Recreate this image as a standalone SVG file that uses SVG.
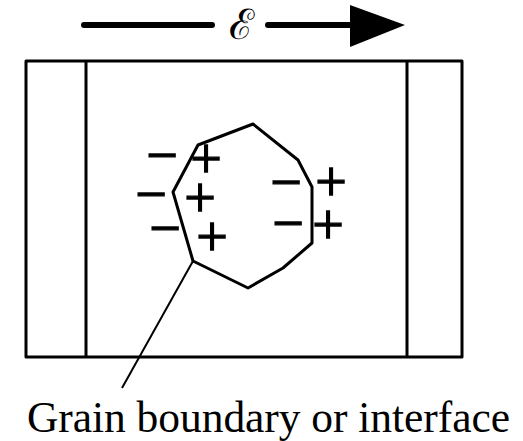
<svg xmlns="http://www.w3.org/2000/svg" width="523" height="441" viewBox="0 0 523 441">
<style>
.ln{fill:none;stroke:#000;stroke-linejoin:round}
.sg{font-family:"Liberation Serif","Times New Roman",serif;font-size:56px;fill:#000;stroke:#000;stroke-width:1.3px;text-anchor:middle}
.lbl{font-family:"Liberation Serif","Times New Roman",serif;font-size:43.5px;fill:#000}
</style>
<rect width="523" height="441" fill="#fff"/>
<g id="field-arrow">
<line class="ln" x1="84" y1="25" x2="212" y2="25" stroke-width="6" stroke-linecap="round"/>
<line class="ln" x1="268" y1="25" x2="352" y2="25" stroke-width="6" stroke-linecap="round"/>
<polygon points="350,5 405,25 350,47" fill="#000"/>
<text x="241" y="39" style="font-family:'DejaVu Serif',serif;font-size:42px;fill:#000;text-anchor:middle">ℰ</text>
</g>
<g id="sample">
<rect class="ln" x="26" y="61" width="436" height="296" stroke-width="3"/>
<line class="ln" x1="86" y1="61" x2="86" y2="357" stroke-width="3"/>
<line class="ln" x1="407" y1="61" x2="407" y2="357" stroke-width="3"/>
</g>
<g id="grain">
<polygon class="ln" stroke-width="3" points="198,145 253,124 298,160 312,187 312,243 283,268 248,288 193,261 173,192"/>
</g>
<g id="charges">
<text class="sg" x="162" y="174">−</text>
<text class="sg" x="206" y="178">+</text>
<text class="sg" x="151" y="213">−</text>
<text class="sg" x="200" y="217">+</text>
<text class="sg" x="165" y="247">−</text>
<text class="sg" x="212" y="256">+</text>
<text class="sg" x="286" y="201">−</text>
<text class="sg" x="331" y="201">+</text>
<text class="sg" x="288" y="242">−</text>
<text class="sg" x="328" y="244">+</text>
</g>
<g id="connectors">
<line class="ln" x1="193" y1="261" x2="122" y2="388" stroke-width="2"/>
</g>
<g id="label">
<text class="lbl" x="27" y="432" textLength="483">Grain boundary or interface</text>
</g>
</svg>
